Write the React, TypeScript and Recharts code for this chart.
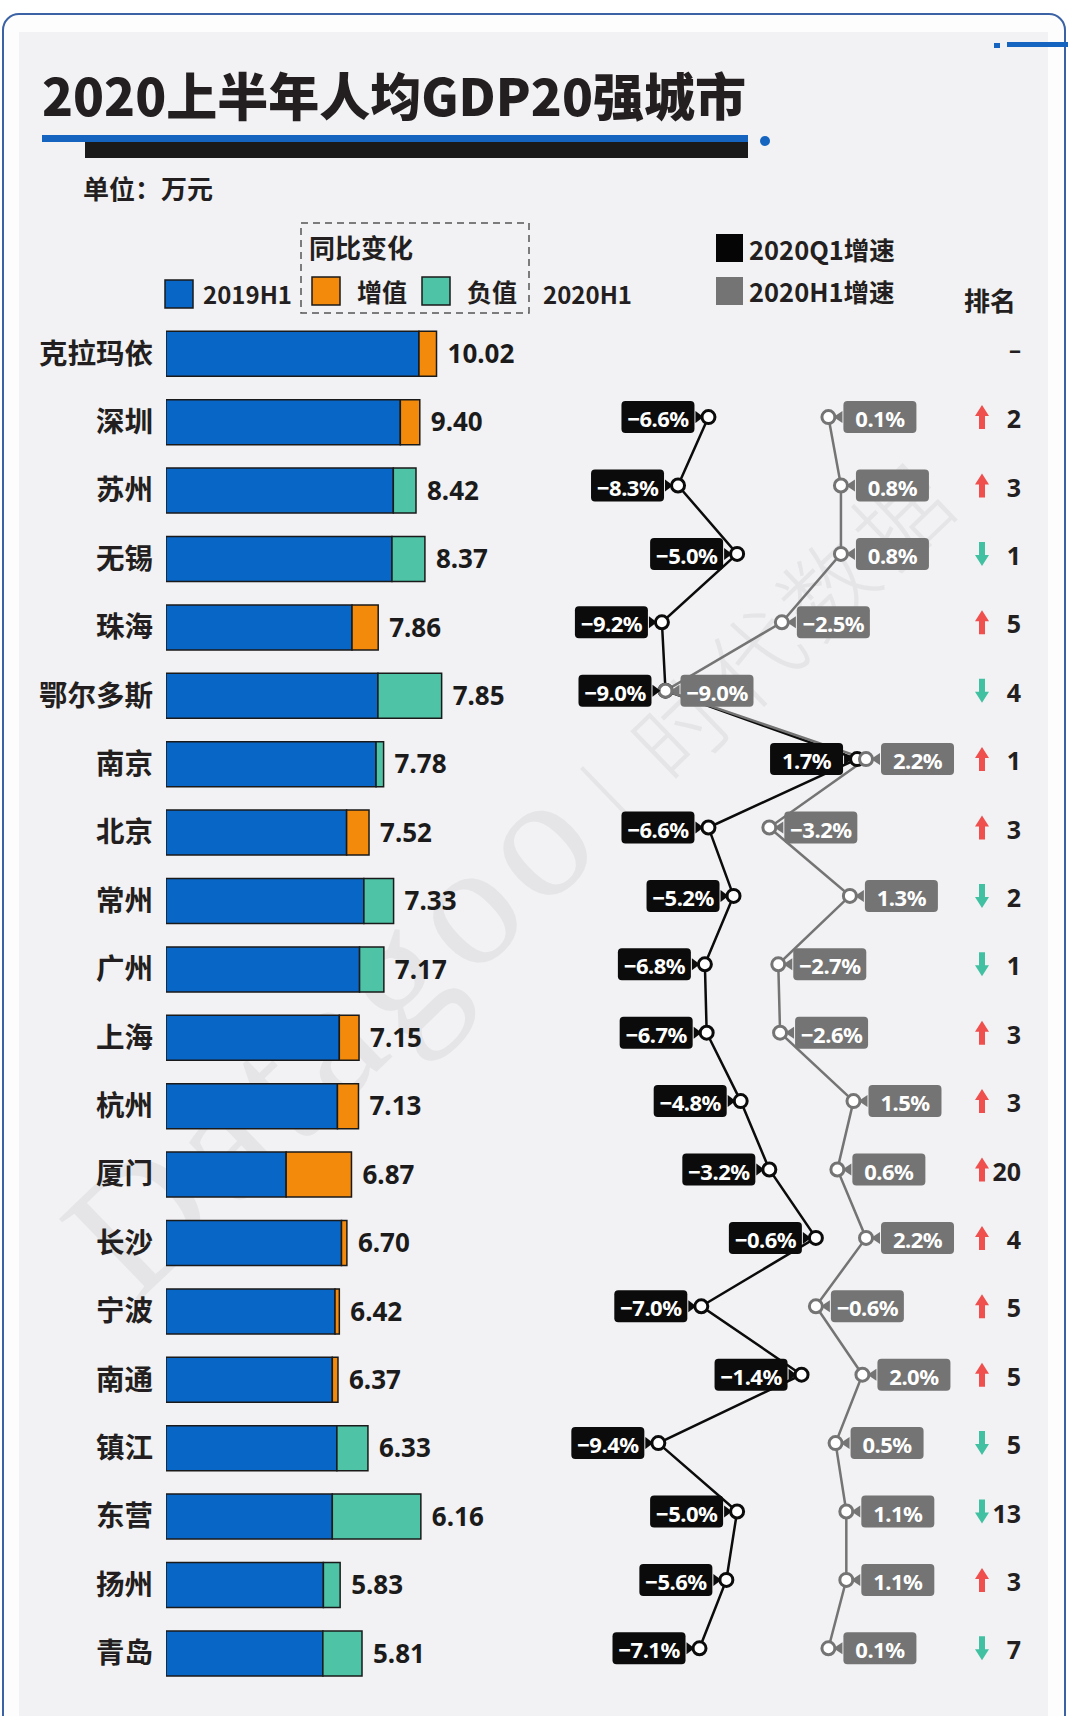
import { ComposedChart, Bar, Line, XAxis, YAxis, Cell, LabelList } from "recharts";

const cities = ["克拉玛依", "深圳", "苏州", "无锡", "珠海", "鄂尔多斯", "南京", "北京", "常州", "广州", "上海", "杭州", "厦门", "长沙", "宁波", "南通", "镇江", "东营", "扬州", "青岛"];
const gdp2020 = [10.02, 9.4, 8.42, 8.37, 7.86, 7.85, 7.78, 7.52, 7.33, 7.17, 7.15, 7.13, 6.87, 6.7, 6.42, 6.37, 6.33, 6.16, 5.83, 5.81];
const gdp2019 = [9.37, 8.68, 9.26, 9.59, 6.89, 10.21, 8.06, 6.69, 8.43, 8.07, 6.42, 6.35, 4.45, 6.5, 6.26, 6.16, 7.48, 9.44, 6.45, 7.26];
const growthQ1 = [null, -6.6, -8.3, -5.0, -9.2, -9.0, 1.7, -6.6, -5.2, -6.8, -6.7, -4.8, -3.2, -0.6, -7.0, -1.4, -9.4, -5.0, -5.6, -7.1];
const growthH1 = [null, 0.1, 0.8, 0.8, -2.5, -9.0, 2.2, -3.2, 1.3, -2.7, -2.6, 1.5, 0.6, 2.2, -0.6, 2.0, 0.5, 1.1, 1.1, 0.1];
const rankChange = [null, 2, 3, -1, 5, -4, 1, 3, -2, -1, 3, 3, 20, 4, 5, 5, -5, -13, 3, -7];

const BLUE = "#0866c6";
const ORANGE = "#f38a0b";
const TEAL = "#4ec3a6";
const INK = "#231f20";
const GRAY = "#747474";
const CJK = "'Noto Sans CJK SC', sans-serif";
const LATIN = "'Noto Sans', sans-serif";

const BAR_MAX = 29.41;
const RATE_DOMAIN = [-36.9, 7.45];

const rows = cities.map((city, i) => {
  const a = gdp2019[i];
  const b = gdp2020[i];
  return {
    city,
    base: Math.min(a, b),
    delta: Math.abs(b - a),
    up: b >= a,
    gdp2020: b,
    q1: growthQ1[i],
    h1: growthH1[i],
  };
});

const fmt = (v: number) => (v < 0 ? "−" : "") + Math.abs(v).toFixed(1) + "%";

const makeDot = (color: string) => (p: any) => {
  if (p.value == null || p.cx == null) return <g key={p.key} />;
  return <circle key={p.key} cx={p.cx} cy={p.cy} r={6.5} fill="#fff" stroke={color} strokeWidth={3} />;
};

const tagLabel = (color: string, side: "left" | "right") => (props: any) => {
  const { value } = props;
  const x = props.x ?? props.viewBox?.x;
  const y = props.y ?? props.viewBox?.y;
  if (value == null || x == null) return null;
  const w = 73;
  const h = 32;
  const edge = side === "left" ? x - 14 : x + 15;
  const bx = side === "left" ? edge - w : edge;
  const tip = side === "left" ? x - 5 : x + 5;
  const base = side === "left" ? edge + 1 : edge - 1;
  return (
    <g>
      <path d={`M${base} ${y - 6} L${tip} ${y} L${base} ${y + 6} Z`} fill={color} />
      <rect x={bx} y={y - h / 2} width={w} height={h} rx={4} fill={color} />
      <text x={bx + w / 2} y={y + 1} textAnchor="middle" dominantBaseline="central" fill="#fff" fontSize={22} fontWeight={700} fontFamily={LATIN} letterSpacing={-0.5}>
        {fmt(value)}
      </text>
    </g>
  );
};

const RankTick = (props: any) => {
  const { x, y, index } = props;
  const r = rankChange[index];
  if (r == null) {
    return (
      <text x={x + 55} y={y} textAnchor="end" dominantBaseline="central" fill={INK} fontSize={24} fontWeight={700} fontFamily={LATIN}>–</text>
    );
  }
  const ax = x + 16;
  const up = r > 0;
  const s = up ? 1 : -1;
  const d = `M${ax} ${y - 12 * s} L${ax + 7} ${y - 1 * s} L${ax + 3} ${y - 1 * s} L${ax + 3} ${y + 12 * s} L${ax - 3} ${y + 12 * s} L${ax - 3} ${y - 1 * s} L${ax - 7} ${y - 1 * s} Z`;
  return (
    <g>
      <path d={d} fill={up ? "#ef504d" : "#41c1a2"} />
      <text x={x + 55} y={y + 1} textAnchor="end" dominantBaseline="central" fill={INK} fontSize={25} fontWeight={700} fontFamily={LATIN}>
        {Math.abs(r)}
      </text>
    </g>
  );
};

const Backdrop = () => (
  <svg width={1068} height={1716} style={{ position: "absolute", left: 0, top: 0 }}>
    <rect x={0} y={0} width={1068} height={1716} fill="#fff" />
    <rect x={3} y={14} width={1062} height={1760} rx={16} fill="#fdfdfd" stroke="#3c62a6" strokeWidth={2} />
    <rect x={19} y={32} width={1029} height={1700} fill="#f2f1f3" />
    <rect x={994} y={43} width={6} height={5} fill="#1565c0" />
    <rect x={1007} y={42} width={61} height={5} fill="#1565c0" />
    <g transform="rotate(-44 135 1305)" fill="#e5e4e7">
      <text x={135} y={1305} fontSize={175} fontFamily="'Liberation Serif', serif" letterSpacing={10}>
        Datagoo
        <tspan fontSize={92} fontFamily={CJK} fontWeight={300} dx={20}>| 时代数据</tspan>
      </text>
    </g>
    <text x={42} y={94} dominantBaseline="central" fill={INK} fontSize={51} fontWeight={900} fontFamily={CJK}>2020上半年人均GDP20强城市</text>
    <rect x={42} y={135} width={706} height={7} fill="#1565c0" />
    <rect x={85} y={142} width={663} height={16} fill="#1a1a1a" />
    <circle cx={765} cy={141} r={5} fill="#1565c0" />
    <text x={83} y={187} dominantBaseline="central" fill={INK} fontSize={26} fontWeight={700} fontFamily={CJK}>单位：万元</text>

    <rect x={165} y={280} width={28} height={28} fill={BLUE} stroke="#1a1a1a" strokeWidth={1.5} />
    <text x={203} y={293} dominantBaseline="central" fill={INK} fontSize={24} fontWeight={700} fontFamily={CJK}>2019H1</text>
    <rect x={301} y={223} width={228} height={90} fill="none" stroke="#555" strokeWidth={1.5} strokeDasharray="7 5" />
    <text x={309} y={246} dominantBaseline="central" fill={INK} fontSize={26} fontWeight={700} fontFamily={CJK}>同比变化</text>
    <rect x={312} y={277} width={28} height={28} fill={ORANGE} stroke="#1a1a1a" strokeWidth={1.5} />
    <text x={357} y={291} dominantBaseline="central" fill={INK} fontSize={25} fontWeight={700} fontFamily={CJK}>增值</text>
    <rect x={422} y={277} width={28} height={28} fill={TEAL} stroke="#1a1a1a" strokeWidth={1.5} />
    <text x={467} y={291} dominantBaseline="central" fill={INK} fontSize={25} fontWeight={700} fontFamily={CJK}>负值</text>
    <text x={543} y={293} dominantBaseline="central" fill={INK} fontSize={24} fontWeight={700} fontFamily={CJK}>2020H1</text>

    <rect x={716} y={234} width={27} height={28} fill="#050505" />
    <text x={749} y={248} dominantBaseline="central" fill={INK} fontSize={25.5} fontWeight={700} fontFamily={CJK}>2020Q1增速</text>
    <rect x={716} y={277} width={27} height={28} fill={GRAY} />
    <text x={749} y={290} dominantBaseline="central" fill={INK} fontSize={25.5} fontWeight={700} fontFamily={CJK}>2020H1增速</text>
    <text x={964} y={299} dominantBaseline="central" fill={INK} fontSize={26} fontWeight={700} fontFamily={CJK}>排名</text>
  </svg>
);

const App = () => (
  <div style={{ position: "absolute", left: 0, top: 0, width: 1068, height: 1716, overflow: "hidden" }}>
    <Backdrop />
    <div style={{ position: "absolute", left: 0, top: 0 }}>
      <ComposedChart width={1068} height={1716} data={rows} layout="vertical" margin={{ top: 319.3, right: 108, bottom: 28.7, left: 0 }}>
        <XAxis xAxisId="bar" type="number" domain={[0, BAR_MAX]} allowDataOverflow hide />
        <YAxis
          yAxisId="city"
          type="category"
          dataKey="city"
          width={166}
          interval={0}
          tickLine={false}
          axisLine={false}
          tickMargin={7}
          tick={{ fill: INK, fontSize: 28.5, fontWeight: 700, fontFamily: CJK }}
        />
        <Bar xAxisId="bar" yAxisId="city" dataKey="base" stackId="g" fill={BLUE} stroke="#1a1a1a" strokeWidth={1.5} barSize={45} isAnimationActive={false} />
        <Bar xAxisId="bar" yAxisId="city" dataKey="delta" stackId="g" stroke="#1a1a1a" strokeWidth={1.5} barSize={45} isAnimationActive={false}>
          {rows.map((r, i) => (
            <Cell key={i} fill={r.up ? ORANGE : TEAL} />
          ))}
          <LabelList
            dataKey="gdp2020"
            position="right"
            offset={11}
            fill="#1b1b1b"
            fontSize={26}
            fontWeight={700}
            fontFamily={LATIN}
            formatter={(v: any) => Number(v).toFixed(2)}
          />
        </Bar>
      </ComposedChart>
    </div>
    <div style={{ position: "absolute", left: 0, top: 0 }}>
      <ComposedChart width={1068} height={1716} data={rows} layout="vertical" margin={{ top: 314.5, right: 0, bottom: 33.5, left: 166 }}>
        <XAxis xAxisId="rate" type="number" domain={RATE_DOMAIN} allowDataOverflow hide />
        <YAxis
          yAxisId="rank"
          orientation="right"
          type="category"
          dataKey="city"
          width={108}
          interval={0}
          padding={{ top: 34.2, bottom: 34.2 }}
          tickLine={false}
          axisLine={false}
          tickMargin={0}
          tick={RankTick}
        />
        <Line xAxisId="rate" yAxisId="rank" dataKey="q1" stroke="#0b0b0b" strokeWidth={2.5} dot={makeDot("#0b0b0b")} activeDot={false} isAnimationActive={false}>
          <LabelList dataKey="q1" content={tagLabel("#0b0b0b", "left")} />
        </Line>
        <Line xAxisId="rate" yAxisId="rank" dataKey="h1" stroke={GRAY} strokeWidth={2.5} dot={makeDot(GRAY)} activeDot={false} isAnimationActive={false}>
          <LabelList dataKey="h1" content={tagLabel(GRAY, "right")} />
        </Line>
      </ComposedChart>
    </div>
  </div>
);

export default App;
